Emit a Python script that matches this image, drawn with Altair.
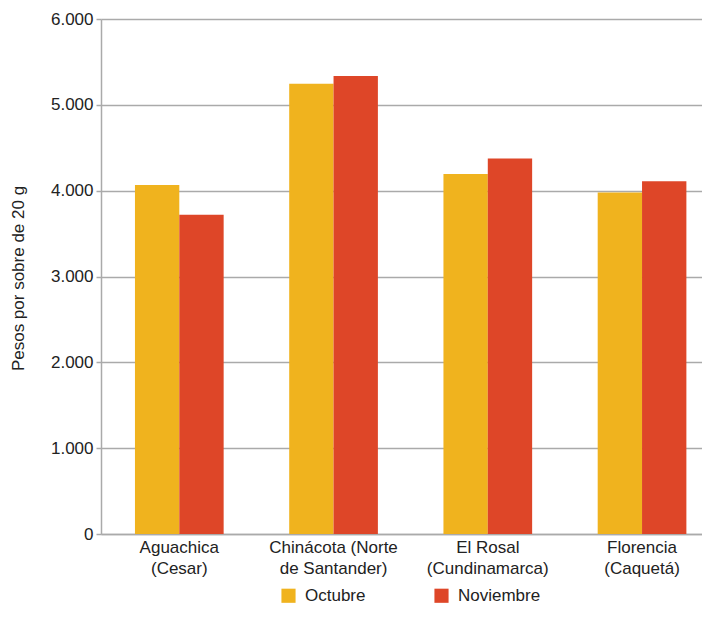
import altair as alt
import pandas as pd

categories = ["Aguachica\n(Cesar)", "Chinácota (Norte\nde Santander)",
              "El Rosal\n(Cundinamarca)", "Florencia\n(Caquetá)"]
series = ["Octubre", "Noviembre"]
octubre = [4065, 5245, 4195, 3980]
noviembre = [3720, 5335, 4375, 4110]
colors = ["#F0B31E", "#DE4628"]
y_ticks = [0, 1000, 2000, 3000, 4000, 5000, 6000]

rows = []
for c, o, n in zip(categories, octubre, noviembre):
    rows.append({"cat": c, "serie": "Octubre", "valor": o})
    rows.append({"cat": c, "serie": "Noviembre", "valor": n})
df = pd.DataFrame(rows)

FONT = "Liberation Sans"
FS = 17

chart = alt.Chart(df).mark_bar().encode(
    x=alt.X("cat:N", sort=categories, title=None,
            scale=alt.Scale(paddingInner=0.425, paddingOuter=0.1607, align=0.685),
            axis=alt.Axis(labelAngle=0, labelExpr="split(datum.label, '\\n')",
                          ticks=False, labelPadding=5, labelFontSize=FS,
                          labelColor="#222", labelFont=FONT, domainColor="#aaaaaa",
                          domainWidth=1.5, labelLineHeight=21, grid=False,
                          labelLimit=300)),
    xOffset=alt.XOffset("serie:N", sort=series),
    y=alt.Y("valor:Q", title="Pesos por sobre de 20 g",
            scale=alt.Scale(domain=[0, 6000], nice=False),
            axis=alt.Axis(values=y_ticks,
                          labelExpr="replace(format(datum.value, ','), ',', '.')",
                          labelFontSize=FS, labelColor="#222", labelFont=FONT,
                          tickSize=5, tickColor="#aaaaaa", tickWidth=1.5,
                          labelPadding=3, gridColor="#aaaaaa", gridWidth=1.5,
                          domainColor="#aaaaaa", domainWidth=1.5,
                          titleFont=FONT, titleFontSize=FS, titleFontWeight="normal",
                          titleColor="#222", titleX=-83, titleY=259,
                          titleAlign="center", titleBaseline="middle")),
    color=alt.Color("serie:N", sort=series,
                    scale=alt.Scale(domain=series, range=colors),
                    legend=alt.Legend(title=None, orient="none", direction="horizontal",
                                      legendX=179, legendY=568, symbolType="square",
                                      symbolSize=200, symbolStrokeWidth=0,
                                      symbolOpacity=1,
                                      labelFontSize=FS, labelFont=FONT, labelColor="#222",
                                      columnPadding=67, labelOffset=8, padding=0)),
).properties(
    width=601, height=515,
    padding={"left": 93, "top": 11, "right": 0, "bottom": 70},
    autosize=alt.AutoSizeParams(type="none"),
).configure_view(stroke=None)

chart.save("out.html", embed_options={"renderer": "svg", "actions": False})
